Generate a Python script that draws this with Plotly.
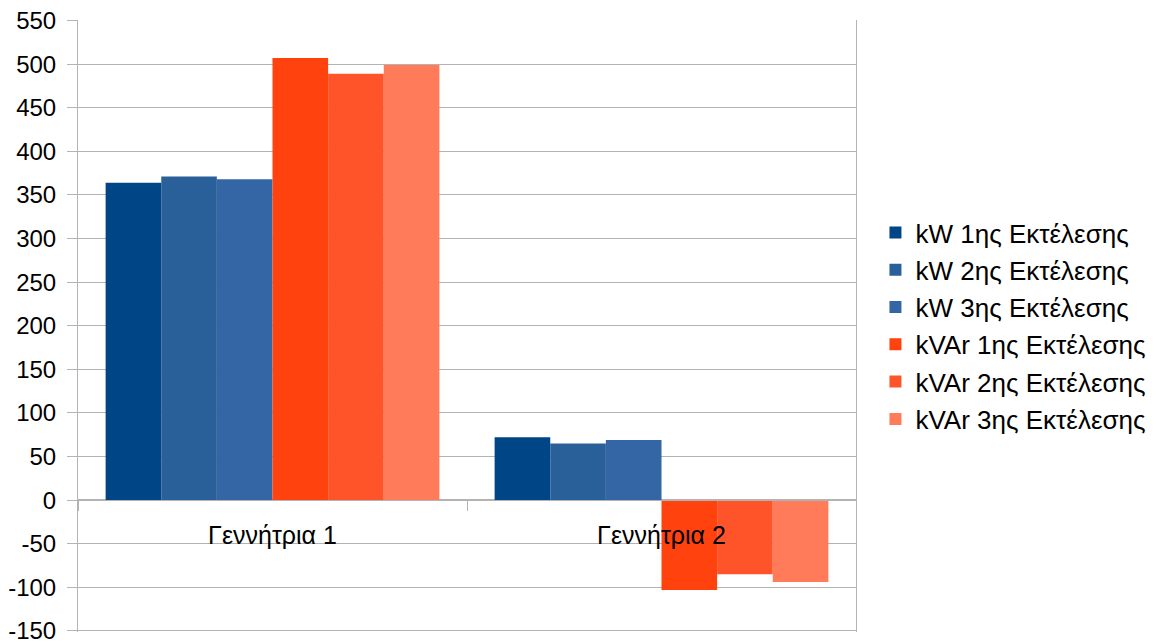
import plotly.graph_objects as go

categories = ["Γεννήτρια 1", "Γεννήτρια 2"]
series_names = ["kW 1ης Εκτέλεσης", "kW 2ης Εκτέλεσης", "kW 3ης Εκτέλεσης",
                "kVAr 1ης Εκτέλεσης", "kVAr 2ης Εκτέλεσης", "kVAr 3ης Εκτέλεσης"]
kw1 = [364, 72]
kw2 = [371, 65]
kw3 = [368, 69]
kvar1 = [507, -103]
kvar2 = [489, -85]
kvar3 = [499, -94]
series_values = [kw1, kw2, kw3, kvar1, kvar2, kvar3]
colors = ["#004586", "#2a6099", "#3465a4", "#ff420e", "#ff5429", "#ff7b59"]
y_ticks = list(range(-150, 551, 50))
y_tick_labels = [str(v) for v in y_ticks]

fig = go.Figure()
for i, (name, vals) in enumerate(zip(series_names, series_values)):
    fig.add_trace(go.Bar(x=categories, y=vals, name=name, marker_color=colors[i],
                         marker_line_width=0, legendgroup=str(i)))

L, R, T, B = 78, 856, 20, 632
W, H = 1158, 643
fig.update_layout(
    width=W, height=H,
    margin=dict(l=L, r=W - R, t=T, b=H - B, pad=0, autoexpand=False),
    paper_bgcolor="white", plot_bgcolor="white",
    barmode="group", bargap=0.142, bargroupgap=0,
    font=dict(family="Liberation Sans, Arial, sans-serif", size=24, color="black"),
    legend=dict(x=1.025, xanchor="left", y=0.5, yanchor="middle",
                font=dict(size=26), tracegroupgap=0.5, itemwidth=30,
                bgcolor="rgba(0,0,0,0)"),
    xaxis=dict(type="category", anchor="free", position=(B - 500) / (B - T),
               showline=True, linecolor="#b3b3b3", linewidth=1,
               ticks="outside", tickson="boundaries", ticklen=10, tickcolor="#b3b3b3",
               showgrid=False, tickfont=dict(size=25), automargin=False,
               ticklabelstandoff=13),
    yaxis=dict(range=[-151.2, 550.6], tickvals=y_ticks, ticktext=y_tick_labels,
               showgrid=True, gridcolor="#b3b3b3",
               gridwidth=1, zeroline=True, zerolinecolor="#b3b3b3",
               showline=True, linecolor="#b3b3b3", mirror=True,
               ticks="outside", ticklen=10, tickcolor="#b3b3b3",
               tickfont=dict(size=24), automargin=False, ticklabelstandoff=6,
               ticklabeloverflow="allow"),
)
fig.write_html("out.html")
